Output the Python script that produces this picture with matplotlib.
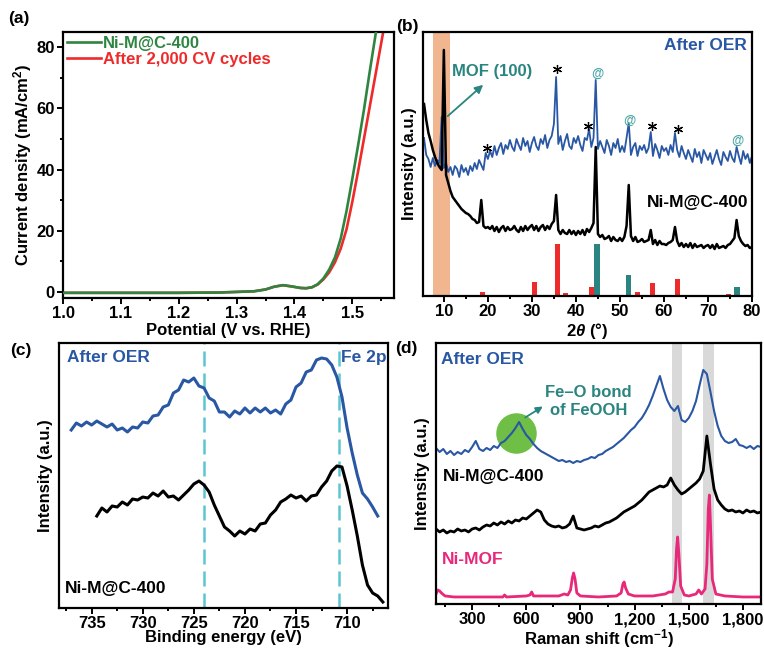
import numpy as np
import matplotlib.pyplot as plt
from matplotlib.ticker import MultipleLocator, FuncFormatter

plt.rcParams['font.family'] = ['Liberation Sans', 'DejaVu Sans']
plt.rcParams['font.weight'] = 'bold'
plt.rcParams['axes.labelweight'] = 'bold'
plt.rcParams['font.size'] = 12
plt.rcParams['mathtext.fontset'] = 'custom'
plt.rcParams['mathtext.rm'] = 'Liberation Sans:bold'
plt.rcParams['mathtext.it'] = 'Liberation Sans:bold:italic'
plt.rcParams['mathtext.bf'] = 'Liberation Sans:bold'
plt.rcParams['axes.linewidth'] = 1.6

azul = '#2957a4'
verde = '#2e8540'
vermelho = '#ee2a2a'
teal = '#2a8580'
teal_claro = '#4aa6a6'
rosa = '#e8287a'
ciano = '#5cc6d0'

# (a) LSV antes e depois de 2000 ciclos
pot_verde = [1.00, 1.10, 1.20, 1.27, 1.30, 1.33, 1.35, 1.365, 1.38, 1.395, 1.41, 1.42,
             1.43, 1.44, 1.45, 1.46, 1.47, 1.48, 1.49, 1.50, 1.51, 1.52, 1.53, 1.54, 1.55]
j_verde = [-0.3, -0.3, -0.3, -0.2, 0.0, 0.2, 0.8, 1.7, 2.2, 1.8, 1.3, 1.2,
           1.5, 2.5, 4.4, 7.3, 11.3, 17.5, 26.5, 37.0, 48.0, 59.5, 72.0, 84.0, 96.0]
pot_verm = [1.00, 1.10, 1.20, 1.27, 1.30, 1.33, 1.35, 1.365, 1.38, 1.395, 1.41, 1.42,
            1.43, 1.44, 1.45, 1.46, 1.47, 1.48, 1.49, 1.50, 1.51, 1.52, 1.53, 1.54, 1.55, 1.56]
j_verm = [-0.3, -0.3, -0.3, -0.2, 0.0, 0.2, 0.8, 1.7, 2.2, 1.8, 1.3, 1.2,
          1.5, 2.4, 4.1, 6.4, 9.7, 14.2, 20.5, 29.5, 39.5, 50.0, 60.5, 71.0, 81.5, 92.0]

# (b) XRD, passo de 0.5 grau entre 5.5 e 80
xrd_2theta = np.arange(5.5, 80.1, 0.5)
xrd_oer = [158, 141, 137, 129, 138, 130, 136, 133, 179, 128,
           133, 124, 129, 121, 130, 127, 119, 131, 124, 128,
           121, 130, 125, 133, 127, 136, 131, 126, 143, 137,
           145, 139, 150, 141, 148, 153, 142, 151, 147, 156,
           149, 145, 157, 151, 146, 158, 150, 155, 144, 153,
           159, 150, 146, 157, 152, 161, 148, 156, 160, 172,
           219, 152, 160, 146, 155, 162, 150, 147, 158, 153,
           160, 151, 145, 158, 156, 167, 149, 158, 216, 147,
           155, 149, 143, 156, 150, 141, 153, 148, 157, 144,
           150, 144, 158, 173, 141, 149, 153, 140, 150, 146,
           151, 143, 148, 164, 140, 152, 146, 138, 150, 145,
           148, 141, 151, 144, 163, 146, 139, 150, 143, 137,
           146, 140, 134, 147, 139, 144, 133, 146, 141, 136,
           143, 132, 139, 146, 137, 131, 144, 139, 135, 145,
           138, 134, 149, 140, 132, 145, 137, 142, 133, 140]
xrd_nimc = [192, 176, 163, 155, 146, 139, 133, 129, 126, 246,
            121, 113, 105, 99, 96, 93, 90, 87, 85, 83,
            82, 80, 77, 76, 73, 74, 96, 70, 68, 69,
            67, 70, 65, 69, 64, 68, 70, 65, 69, 66,
            67, 70, 66, 64, 69, 65, 70, 66, 69, 71,
            66, 70, 65, 69, 71, 66, 70, 67, 72, 75,
            101, 66, 62, 66, 63, 62, 66, 62, 65, 61,
            65, 62, 66, 61, 67, 64, 68, 73, 149, 62,
            59, 61, 57, 58, 60, 55, 59, 56, 55, 58,
            55, 59, 70, 111, 60, 55, 59, 54, 55, 57,
            54, 55, 56, 66, 52, 56, 51, 55, 52, 52,
            51, 53, 54, 56, 69, 55, 50, 53, 49, 52,
            49, 53, 48, 52, 49, 50, 51, 48, 50, 51,
            48, 51, 47, 52, 48, 49, 50, 48, 51, 52,
            55, 58, 76, 60, 55, 52, 50, 51, 48, 49]
ref_verm_pos = [18.7, 30.5, 35.9, 37.6, 43.5, 53.9, 57.4, 63.1, 71.6, 74.7]
ref_verm_int = [8, 27, 100, 5, 17, 7, 25, 33, 2, 4]
ref_teal_pos = [44.8, 52.0, 76.6]
ref_teal_int = [100, 40, 17]
estrelas_x = [19.8, 35.8, 42.8, 57.3, 63.1]
estrelas_y = [148, 227, 170, 170, 167]
arroba_x = [44.9, 52.1, 76.6]
arroba_y = [222, 175, 155]

# (c) XPS Fe 2p
be_oer = np.arange(737.0, 706.9, -0.5)
xps_oer = [178, 185, 182, 186, 183, 187, 184, 181, 184, 178,
           180, 176, 181, 180, 186, 185, 192, 193, 201, 203,
           215, 218, 228, 226, 230, 222, 220, 210, 207, 196,
           196, 191, 197, 194, 200, 195, 200, 196, 200, 195,
           198, 194, 204, 208, 221, 225, 236, 238, 248, 250,
           249, 243, 231, 211, 180, 155, 133, 115, 109, 101,
           92]
be_nimc = np.arange(734.5, 706.4, -0.5)
xps_nimc = [92, 100, 96, 102, 101, 106, 103, 109, 108, 111,
            110, 115, 112, 117, 111, 112, 108, 113, 118, 124,
            127, 123, 116, 103, 92, 81, 77, 72, 77, 74,
            79, 77, 84, 85, 93, 98, 106, 109, 113, 110,
            112, 107, 112, 113, 121, 127, 137, 142, 141, 122,
            98, 72, 43, 23, 15, 12, 6]
picos_fe = [724.0, 710.8]

# (d) Raman
raman_x = np.arange(100, 1901, 20)
raman_oer = [156, 152, 155, 150, 153, 149, 152, 150, 154, 152,
             157, 163, 155, 153, 156, 154, 158, 156, 161, 163,
             167, 171, 176, 182, 175, 169, 165, 160, 156, 153,
             151, 149, 147, 145, 143, 144, 142, 143, 141, 143,
             142, 144, 145, 147, 146, 149, 150, 153, 155, 157,
             160, 163, 166, 170, 174, 177, 182, 186, 192, 199,
             208, 218, 228, 215, 204, 197, 193, 198, 184, 182,
             186, 193, 203, 219, 234, 230, 212, 193, 178, 168,
             163, 161, 162, 165, 159, 158, 156, 158, 155, 158,
             157]
raman_nimc = [75, 72, 74, 71, 73, 72, 75, 73, 74, 72,
              75, 76, 74, 77, 79, 78, 81, 79, 82, 80,
              83, 81, 84, 83, 86, 85, 88, 91, 94, 92,
              84, 80, 78, 77, 78, 76, 77, 80, 88, 76,
              75, 74, 75, 76, 78, 77, 79, 81, 82, 84,
              86, 89, 92, 94, 96, 98, 101, 104, 108, 112,
              114, 116, 118, 117, 119, 126, 119, 114, 110, 112,
              115, 118, 121, 125, 133, 168, 140, 115, 104, 99,
              95, 93, 94, 92, 93, 91, 94, 92, 93, 91,
              92]
mof_x = [100, 110, 120, 130, 150, 200, 300, 400, 470, 480, 490, 600, 620, 630, 640,
         780, 810, 830, 845, 855, 862, 870, 880, 900, 1000, 1100, 1125, 1135, 1142, 1150,
         1165, 1182, 1200, 1300, 1370, 1390, 1410, 1425, 1432, 1438, 1445, 1455, 1475, 1500,
         1540, 1555, 1570, 1590, 1600, 1608, 1614, 1620, 1630, 1650, 1700, 1800, 1900]
mof_y = [10, 14, 13, 11, 8, 7, 7, 7, 7, 9, 7, 8, 9, 12, 8,
         8, 10, 9, 14, 26, 31, 25, 11, 8, 7, 8, 11, 20, 22, 16,
         10, 9, 8, 8, 10, 12, 12, 25, 55, 67, 50, 18, 9, 8,
         10, 14, 10, 15, 40, 95, 109, 80, 25, 10, 8, 7, 7]
bandas_cinza = [(1405, 1465), (1580, 1640)]
feo_x, feo_y = 544, 171

fig = plt.figure(figsize=(7.64, 6.5), dpi=100)
ax_a = fig.add_axes([0.0825, 0.5415, 0.4332, 0.4092])
ax_b = fig.add_axes([0.5533, 0.5446, 0.4310, 0.4062])
ax_c = fig.add_axes([0.0772, 0.0646, 0.4306, 0.4077])
ax_d = fig.add_axes([0.5707, 0.0708, 0.4254, 0.4015])


def estilo(ax):
    ax.tick_params(which='both', direction='out', width=1.4, labelsize=12,
                   top=False, right=False, pad=2)
    ax.tick_params(which='major', length=4)
    ax.tick_params(which='minor', length=2.5)


# (a)
ax_a.plot(pot_verde, j_verde, color=verde, lw=1.9, label='Ni-M@C-400', zorder=3)
ax_a.plot(pot_verm, j_verm, color=vermelho, lw=1.9, label='After 2,000 CV cycles', zorder=2)
ax_a.set_xlim(1.0, 1.572)
ax_a.set_ylim(-2, 85)
ax_a.xaxis.set_major_locator(MultipleLocator(0.1))
ax_a.xaxis.set_minor_locator(MultipleLocator(0.05))
ax_a.yaxis.set_major_locator(MultipleLocator(20))
ax_a.yaxis.set_minor_locator(MultipleLocator(10))
estilo(ax_a)
ax_a.set_xlabel('Potential (V vs. RHE)', labelpad=1)
ax_a.set_ylabel('Current density (mA/cm$^{2}$)', labelpad=2)
leg = ax_a.legend(loc='upper left', frameon=False, fontsize=12, handlelength=2.0,
                  handletextpad=0.15, labelspacing=0.05, borderaxespad=0.15, borderpad=0.1)
for txt, ln in zip(leg.get_texts(), leg.get_lines()):
    txt.set_color(ln.get_color())

# (b)
ax_b.axvspan(7.5, 11.5, color='#f1b58f', lw=0, zorder=0)
ax_b.plot(xrd_2theta, xrd_oer, color=azul, lw=1.3, zorder=2)
ax_b.plot(xrd_2theta, xrd_nimc, color='black', lw=1.8, zorder=3)
ax_b.bar(ref_verm_pos, np.array(ref_verm_int) * 0.52, width=1.1, color=vermelho, zorder=2)
ax_b.bar(ref_teal_pos, np.array(ref_teal_int) * 0.52, width=1.2, color=teal, zorder=2)
ax_b.plot(estrelas_x, estrelas_y, ls='none', marker=(6, 2, 0), ms=6.5, mew=0.9, color='black')
for x, y in zip(arroba_x, arroba_y):
    ax_b.text(x, y, '@', ha='center', va='center', color=teal_claro, fontsize=9)
ax_b.annotate('', xy=(19.4, 213), xytext=(10.4, 178),
              arrowprops=dict(arrowstyle='-|>', color=teal, lw=1.3, mutation_scale=12))
ax_b.text(11.8, 224, 'MOF (100)', color=teal, fontsize=12, va='center')
ax_b.text(0.985, 0.95, 'After OER', color=azul, fontsize=12.5, ha='right', va='center',
          transform=ax_b.transAxes)
ax_b.text(0.99, 0.355, 'Ni-M@C-400', color='black', fontsize=12.5, ha='right', va='center',
          transform=ax_b.transAxes)
ax_b.set_xlim(5.2, 80)
ax_b.set_ylim(0, 264)
ax_b.xaxis.set_major_locator(MultipleLocator(10))
ax_b.xaxis.set_minor_locator(MultipleLocator(5))
ax_b.set_yticks([])
estilo(ax_b)
ax_b.set_xlabel(r'2$\theta$ (°)', labelpad=1)
ax_b.set_ylabel('Intensity (a.u.)', labelpad=4)

# (c)
for be in picos_fe:
    ax_c.axvline(be, color=ciano, lw=1.8, ls=(0, (6, 2.8)), zorder=1)
ax_c.plot(be_oer, xps_oer, color=azul, lw=2.2, zorder=2)
ax_c.plot(be_nimc, xps_nimc, color='black', lw=2.2, zorder=2)
ax_c.set_xlim(738.2, 706.0)
ax_c.set_ylim(0, 265)
ax_c.xaxis.set_major_locator(MultipleLocator(5))
ax_c.xaxis.set_minor_locator(MultipleLocator(2.5))
ax_c.set_yticks([])
estilo(ax_c)
ax_c.text(0.024, 0.947, 'After OER', color=azul, fontsize=12.5, va='center',
          transform=ax_c.transAxes)
ax_c.text(0.856, 0.947, 'Fe 2p', color=azul, fontsize=12.5, va='center',
          transform=ax_c.transAxes)
ax_c.text(0.018, 0.075, 'Ni-M@C-400', color='black', fontsize=12.5, va='center',
          transform=ax_c.transAxes)
ax_c.set_xlabel('Binding energy (eV)', labelpad=-1)
ax_c.set_ylabel('Intensity (a.u.)', labelpad=4)

# (d)
for ini, fim in bandas_cinza:
    ax_d.axvspan(ini, fim, color='#d9d9d9', lw=0, zorder=0)
ax_d.scatter([feo_x], [feo_y], s=850, color='#6fbf46', lw=0, zorder=1)
ax_d.plot(raman_x, raman_oer, color=azul, lw=1.5, zorder=2)
ax_d.plot(raman_x, raman_nimc, color='black', lw=2.0, zorder=2)
ax_d.plot(mof_x, mof_y, color=rosa, lw=2.0, zorder=2)
ax_d.annotate('', xy=(705, 199), xytext=(581, 185),
              arrowprops=dict(arrowstyle='-|>', color=teal, lw=1.3, mutation_scale=10))
ax_d.text(0.47, 0.775, 'Fe\u2013O bond\nof FeOOH', color=teal, fontsize=12, ha='center',
          va='center', linespacing=1.25, transform=ax_d.transAxes)
ax_d.text(0.015, 0.935, 'After OER', color=azul, fontsize=12.5, va='center',
          transform=ax_d.transAxes)
ax_d.text(0.022, 0.487, 'Ni-M@C-400', color='black', fontsize=12.5, va='center',
          transform=ax_d.transAxes)
ax_d.text(0.018, 0.169, 'Ni-MOF', color=rosa, fontsize=12.5, va='center',
          transform=ax_d.transAxes)
ax_d.set_xlim(100, 1900)
ax_d.set_ylim(0, 261)
ax_d.xaxis.set_major_locator(MultipleLocator(300))
ax_d.xaxis.set_minor_locator(MultipleLocator(150))
ax_d.xaxis.set_major_formatter(FuncFormatter(lambda v, p: f'{v:,.0f}'))
ax_d.set_yticks([])
estilo(ax_d)
ax_d.set_xlabel('Raman shift (cm$^{\u22121}$)', labelpad=0)
ax_d.set_ylabel('Intensity (a.u.)', labelpad=4)

# letras dos paineis
for letra, x, y in [('(a)', 8, 18), ('(b)', 396, 26), ('(c)', 10, 350), ('(d)', 395, 348)]:
    fig.text(x / 764, 1 - y / 650, letra, fontsize=12.5, ha='left', va='center')

fig.savefig('out.png', dpi=100)
